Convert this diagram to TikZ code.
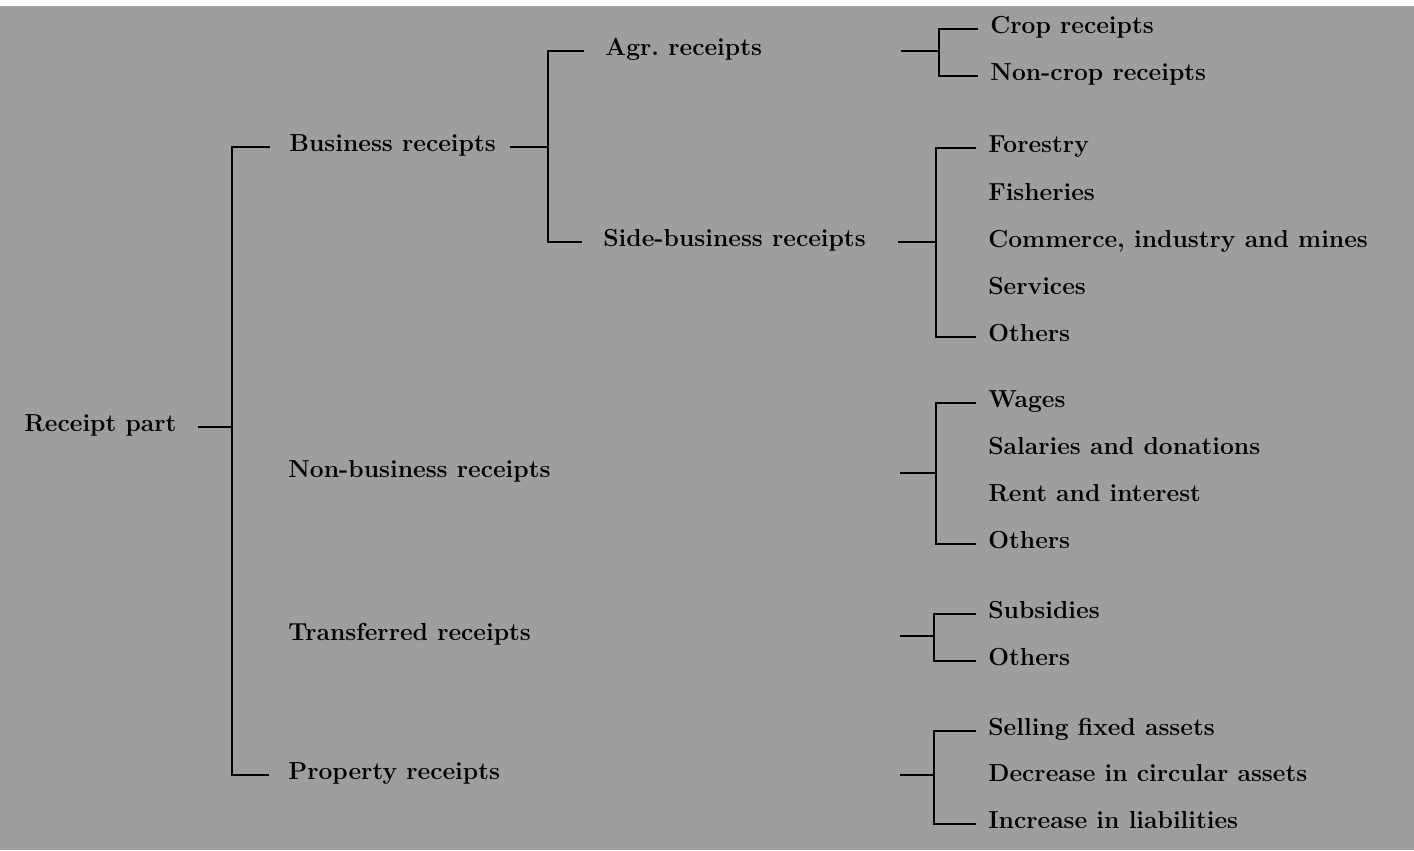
\documentclass[tikz,border=0pt]{standalone}
\usepackage{tikz}
\usetikzlibrary{
    calc
}
\definecolor{paper}{gray}{0.62}

\begin{document}
\begin{tikzpicture}[
        x=0.02cm,
        y=-0.02cm,
        item/.style={
            anchor=west,
            inner sep=0pt,
            text height=0.72em,
            text depth=0.22em,
            font=\fontsize{14}{17}\selectfont\bfseries
        },
        line/.style={
            line width=1.2pt
        },
        bracket/.style={
            line,
            shorten <=#1,
            shorten >=#1
        }
    ]

    \useasboundingbox (0,0) rectangle (1414,850);
    \fill[paper] (0,6) rectangle (1414,850);

    \coordinate (trunk) at (232,0);
    \coordinate (busbar) at (548,0);
    \coordinate (agrbar) at (939,0);
    \coordinate (sidebar) at (936,0);
    \coordinate (nonbar) at (936,0);
    \coordinate (transbar) at (934,0);
    \coordinate (propbar) at (934,0);

    \node[item] (root) at (24,427) {Receipt part};

    \node[item] (bus) at (289,147) {Business receipts};
    \node[item] (nonbus) at (288,473) {Non-business receipts};
    \node[item] (trans) at (288,636) {Transferred receipts};
    \node[item] (prop) at (288,775) {Property receipts};

    \node[item] (agr) at (605,51) {Agr.\ receipts};
    \node[item] (side) at (603,242) {Side-business receipts};

    \node[item] (crop) at (990,29) {Crop receipts};
    \node[item] (noncrop) at (990,76) {Non-crop receipts};

    \node[item] (forest) at (988,148) {Forestry};
    \node[item] (fish) at (988,196) {Fisheries};
    \node[item] (comm) at (988,243) {Commerce, industry and mines};
    \node[item] (serv) at (988,290) {Services};
    \node[item] (oth1) at (988,337) {Others};

    \node[item] (wages) at (988,403) {Wages};
    \node[item] (sal) at (988,450) {Salaries and donations};
    \node[item] (rent) at (988,497) {Rent and interest};
    \node[item] (oth2) at (988,544) {Others};

    \node[item] (subs) at (988,614) {Subsidies};
    \node[item] (oth3) at (988,661) {Others};

    \node[item] (sell) at (988,731) {Selling fixed assets};
    \node[item] (decr) at (988,777) {Decrease in circular assets};
    \node[item] (incr) at (988,824) {Increase in liabilities};

    \draw[line, shorten <=12pt] (root.east) -- (root -| trunk);
    \draw[bracket=11pt] (bus.west) -| (trunk |- prop) -- (prop.west);

    \draw[line, shorten <=8pt] (bus.east) -- (bus -| busbar);
    \draw[bracket=12pt] (agr.west) -| (busbar |- side) -- (side.west);

    \draw[line] ($(agr -| agrbar)+(-38,0)$) -- (agr -| agrbar);
    \draw[bracket=7pt] (crop.west) -| (agrbar |- noncrop) -- (noncrop.west);

    \draw[line] ($(side -| sidebar)+(-38,0)$) -- (side -| sidebar);
    \draw[bracket=7pt] (forest.west) -| (sidebar |- oth1) -- (oth1.west);

    \draw[line] ($(nonbus -| nonbar)+(-36,0)$) -- (nonbus -| nonbar);
    \draw[bracket=7pt] (wages.west) -| (nonbar |- oth2) -- (oth2.west);

    \draw[line] ($(trans -| transbar)+(-34,0)$) -- (trans -| transbar);
    \draw[bracket=7pt] (subs.west) -| (transbar |- oth3) -- (oth3.west);

    \draw[line] ($(prop -| propbar)+(-34,0)$) -- (prop -| propbar);
    \draw[bracket=7pt] (sell.west) -| (propbar |- incr) -- (incr.west);

\end{tikzpicture}
\end{document}
